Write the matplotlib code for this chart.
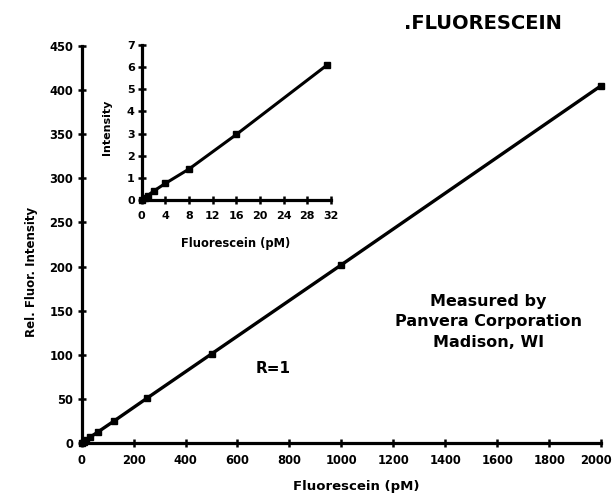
import matplotlib
matplotlib.use('Agg')
import matplotlib.pyplot as plt
from matplotlib.transforms import ScaledTranslation

plt.rcParams['font.family'] = ['DejaVu Sans']
plt.rcParams['font.weight'] = 'bold'

# --- DANE: wykres glowny ---
conc_main = [0, 7.8, 15.6, 31.25, 62.5, 125, 250, 500, 1000, 2000]
fluor_main = [0, 1.6, 3.2, 6.3, 12.5, 25, 50.5, 101, 202, 405]

# --- DANE: wstawka (niskie stezenia) ---
conc_inset = [0, 0.5, 1, 2, 4, 8, 16, 31.25]
fluor_inset = [0, 0.1, 0.2, 0.4, 0.75, 1.4, 2.96, 6.08]

main_xticks = [0, 200, 400, 600, 800, 1000, 1200, 1400, 1600, 1800, 2000]
main_yticks = [0, 50, 100, 150, 200, 250, 300, 350, 400, 450]
inset_xticks = [0, 4, 8, 12, 16, 20, 24, 28, 32]
inset_yticks = [0, 1, 2, 3, 4, 5, 6, 7]


def style_axes(ax, size, xpad, ypad):
    for side in ['top', 'right']:
        ax.spines[side].set_visible(False)
    for side in ['left', 'bottom']:
        ax.spines[side].set_linewidth(2.3)
    ax.tick_params(direction='inout', length=6, width=1.8, labelsize=size)
    ax.tick_params(axis='x', pad=xpad)
    ax.tick_params(axis='y', pad=ypad)
    for lab in ax.get_xticklabels() + ax.get_yticklabels():
        lab.set_fontweight('bold')


fig = plt.figure(figsize=(6.14, 4.93), dpi=100)

# wykres glowny
ax = fig.add_axes([0.133, 0.1014, 0.846, 0.8053])
ax.plot(conc_main, fluor_main, color='black', lw=2.4, marker='s', ms=4,
        clip_on=False)
ax.set_xlim(0, 2000)
ax.set_ylim(0, 450)
ax.set_xticks(main_xticks)
ax.set_yticks(main_yticks)
style_axes(ax, 8.3, 5, 3)
# ostatnia etykieta (2000) lekko w lewo, zeby sie miescila
last = ax.get_xticklabels()[-1]
last.set_transform(last.get_transform() + ScaledTranslation(-0.05, 0, fig.dpi_scale_trans))
ax.set_xlabel('Fluorescein (pM)', fontsize=9.5, fontweight='bold')
ax.xaxis.set_label_coords(0.529, -0.093)
ax.set_ylabel('Rel. Fluor. Intensity', fontsize=8.5, fontweight='bold')
ax.yaxis.set_label_coords(-0.084, 0.43)

fig.text(0.787, 0.953, '.FLUORESCEIN', ha='center', va='center',
         fontsize=14, fontweight='heavy')
fig.text(0.795, 0.347, 'Measured by\nPanvera Corporation\nMadison, WI',
         ha='center', va='center', fontsize=11.5, fontweight='heavy',
         linespacing=1.45)
fig.text(0.445, 0.253, 'R=1', ha='center', va='center',
         fontsize=11, fontweight='heavy')

# wstawka
axi = fig.add_axes([0.2308, 0.5943, 0.3083, 0.3144])
axi.plot(conc_inset, fluor_inset, color='black', lw=2.2, marker='s', ms=4,
         clip_on=False)
axi.set_xlim(0, 32)
axi.set_ylim(0, 7)
axi.set_xticks(inset_xticks)
axi.set_yticks(inset_yticks)
style_axes(axi, 8, 5, 2)
axi.set_xlabel('Fluorescein (pM)', fontsize=8.3, fontweight='bold')
axi.xaxis.set_label_coords(0.498, -0.24)
axi.set_ylabel('Intensity', fontsize=8, fontweight='bold')
axi.yaxis.set_label_coords(-0.157, 0.47)

fig.savefig('out.png', dpi=100)
